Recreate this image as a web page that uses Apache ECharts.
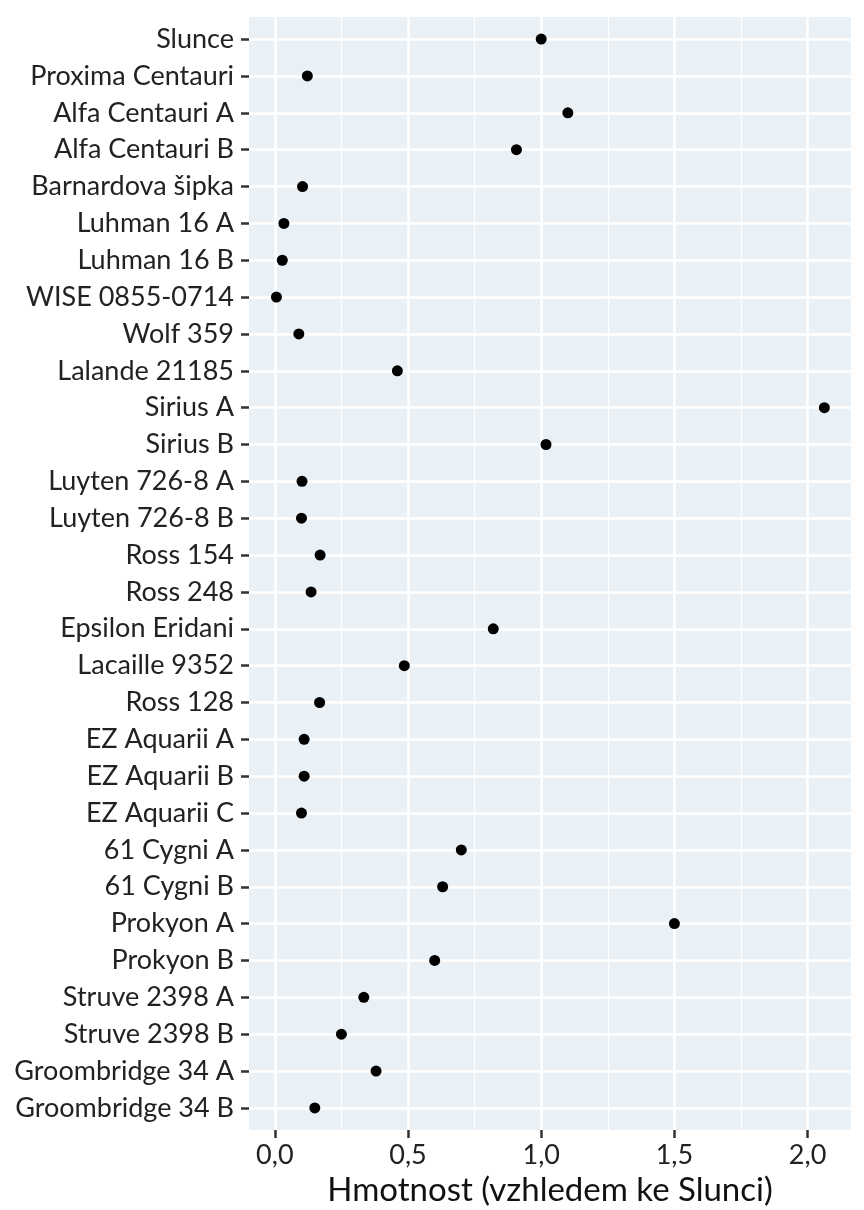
<!DOCTYPE html>
<html><head><meta charset="utf-8">
<script src="https://cdn.jsdelivr.net/npm/echarts@6/dist/echarts.min.js"></script>
<style>html,body{margin:0;padding:0;background:#fff}#c{width:864px;height:1210px}</style>
</head><body><div id="c"></div>
<script>
const stars = ["Slunce","Proxima Centauri","Alfa Centauri A","Alfa Centauri B","Barnardova šipka","Luhman 16 A","Luhman 16 B","WISE 0855-0714","Wolf 359","Lalande 21185","Sirius A","Sirius B","Luyten 726-8 A","Luyten 726-8 B","Ross 154","Ross 248","Epsilon Eridani","Lacaille 9352","Ross 128","EZ Aquarii A","EZ Aquarii B","EZ Aquarii C","61 Cygni A","61 Cygni B","Prokyon A","Prokyon B","Struve 2398 A","Struve 2398 B","Groombridge 34 A","Groombridge 34 B"];
const masses = [1.0,0.122,1.1,0.907,0.104,0.034,0.028,0.006,0.09,0.46,2.063,1.018,0.102,0.1,0.17,0.136,0.82,0.486,0.168,0.11,0.11,0.1,0.70,0.63,1.5,0.6,0.334,0.25,0.38,0.15];
const xTicks = [0, 0.5, 1.0, 1.5, 2.0];
const xMinorGrid = [0.25, 0.75, 1.25, 1.75];
const xTitle = "Hmotnost (vzhledem ke Slunci)";

const yIdx = stars.map((_, i) => i);
const chart = echarts.init(document.getElementById('c'), null, {renderer: 'canvas'});
const font = 'Lato, "Open Sans", sans-serif';
chart.setOption({
  animation: false,
  grid: {left: 249, right: 13, top: 17, bottom: 80, show: true, backgroundColor: '#E9F0F6', borderWidth: 0,
    containLabel: false, outerBoundsMode: 'none'},
  xAxis: {
    type: 'value', min: -0.097, max: 2.163,
    name: xTitle, nameLocation: 'middle', nameGap: 44,
    nameTextStyle: {fontFamily: font, fontSize: 33, color: '#111'},
    axisLine: {show: false, onZero: false},
    splitLine: {show: false},
    axisTick: {show: true, customValues: xTicks, length: 8, lineStyle: {color: '#333', width: 2.5}},
    axisLabel: {customValues: xTicks, fontFamily: font, fontSize: 27, color: '#222', margin: 12,
      formatter: v => v.toFixed(1).replace('.', ',')}
  },
  yAxis: {
    type: 'value', inverse: true, min: -0.6, max: stars.length - 1 + 0.6,
    axisLine: {show: false, onZero: false},
    splitLine: {show: false},
    axisTick: {show: true, customValues: yIdx, length: 8, lineStyle: {color: '#333', width: 2.5}},
    axisLabel: {customValues: yIdx, fontFamily: font, fontSize: 27, color: '#222', margin: 15,
      formatter: v => stars[Math.round(v)]}
  },
  series: [
    {
      type: 'scatter', data: [], z: 1, silent: true,
      markLine: {
        silent: true, symbol: 'none', animation: false,
        label: {show: false},
        data: [
          ...xMinorGrid.map(v => ({xAxis: v, lineStyle: {color: '#fff', width: 1.3, type: 'solid'}})),
          ...xTicks.map(v => ({xAxis: v, lineStyle: {color: '#fff', width: 2.6, type: 'solid'}})),
          ...yIdx.map(v => ({yAxis: v, lineStyle: {color: '#fff', width: 2.6, type: 'solid'}}))
        ]
      }
    },
    {
      type: 'scatter', z: 5, symbolSize: 11,
      itemStyle: {color: '#000', opacity: 1},
      data: masses.map((m, i) => [m, i])
    }
  ]
});
</script>
</body></html>
